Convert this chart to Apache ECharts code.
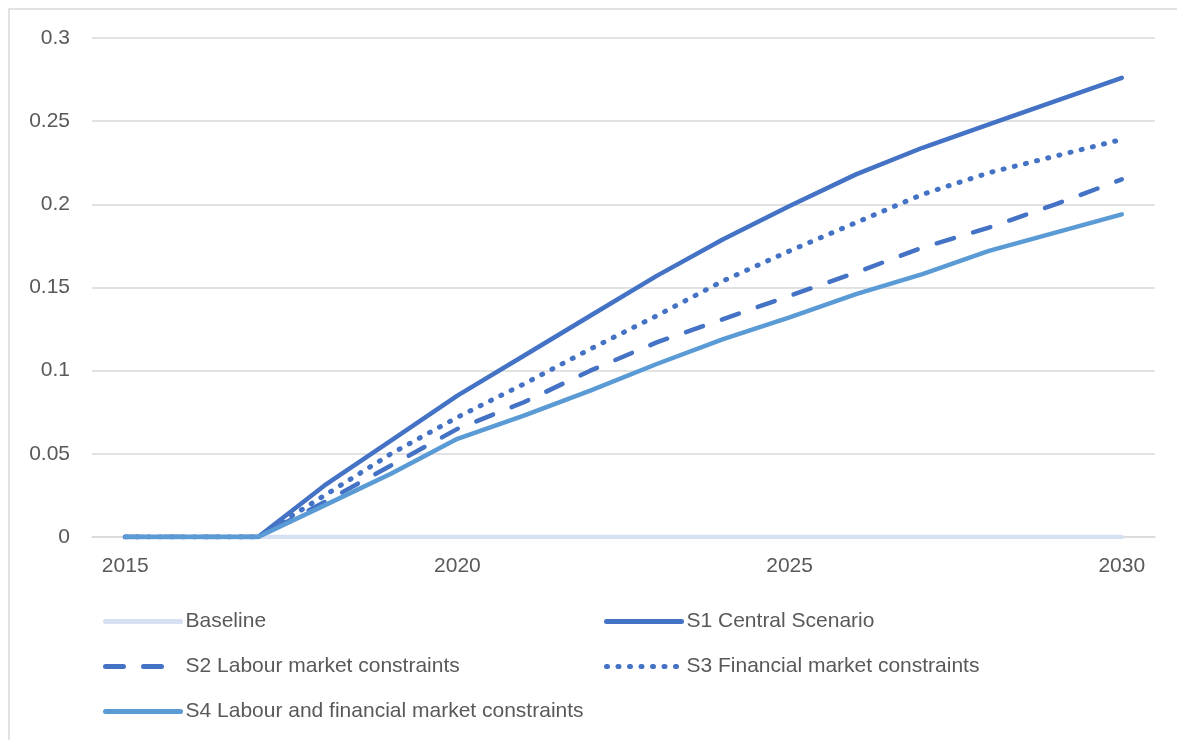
<!DOCTYPE html>
<html>
<head>
<meta charset="utf-8">
<script src="https://cdn.jsdelivr.net/npm/echarts@6/dist/echarts.min.js"></script>
<style>
html,body{margin:0;padding:0;background:#fff;}
#chart{width:1177px;height:740px;}
</style>
</head>
<body>
<div id="chart"></div>
<script>
const years = ['2015','2016','2017','2018','2019','2020','2021','2022','2023','2024','2025','2026','2027','2028','2029','2030'];
const baseline = [0,0,0,0,0,0,0,0,0,0,0,0,0,0,0,0];
const s1 = [0,0,0,0.031,0.058,0.085,0.109,0.133,0.157,0.179,0.199,0.218,0.234,0.248,0.262,0.276];
const s2 = [0,0,0,0.021,0.043,0.065,0.081,0.100,0.117,0.131,0.145,0.159,0.174,0.186,0.200,0.215];
const s3 = [0,0,0,0.025,0.050,0.072,0.092,0.113,0.133,0.154,0.172,0.189,0.206,0.219,0.229,0.239];
const s4 = [0,0,0,0.019,0.038,0.059,0.073,0.088,0.104,0.119,0.132,0.146,0.158,0.172,0.183,0.194];
const names = ['Baseline','S1 Central Scenario','S2 Labour market constraints','S3 Financial market constraints','S4 Labour and financial market constraints'];

const FONT = 'Liberation Sans, Arial, sans-serif';
const chart = echarts.init(document.getElementById('chart'));
const legendText = {color:'#595959', fontSize:21, fontFamily:FONT};
const legendBase = {orient:'vertical', top:611, itemGap:24, itemWidth:75, itemHeight:10, padding:0, textStyle:legendText,
  itemStyle:{opacity:0}, lineStyle:{width:5, cap:'round'}};
chart.setOption({
  animation:false,
  backgroundColor:'#fff',
  graphic:[{type:'rect', shape:{x:9,y:9,width:1200,height:760}, style:{fill:'none', stroke:'#D9D9D9', lineWidth:1.5}, silent:true, z:-1}],
  grid:{left:92, right:22, top:38, bottom:203},
  legend:[
    Object.assign({left:103, data:[names[0],names[2],names[4]]}, legendBase),
    Object.assign({left:604, data:[names[1],names[3]]}, legendBase)
  ],
  xAxis:{
    type:'category', data:years, boundaryGap:true,
    axisLine:{show:true, lineStyle:{color:'#D9D9D9', width:1.5}},
    axisTick:{show:false},
    axisLabel:{interval:(i)=> i%5===0, color:'#595959', fontSize:21, fontFamily:FONT, margin:19},
    splitLine:{show:false}
  },
  yAxis:{
    type:'value', min:0, max:0.3, interval:0.05,
    axisLine:{show:false}, axisTick:{show:false},
    axisLabel:{color:'#595959', fontSize:21, fontFamily:FONT, margin:22},
    splitLine:{lineStyle:{color:'#D9D9D9', width:1.5}}
  },
  series:[
    {name:names[0], type:'line', data:baseline, showSymbol:false, symbol:'none', lineStyle:{color:'#D6E0F2', width:4.5, cap:'round'}, itemStyle:{color:'#D6E0F2'}},
    {name:names[1], type:'line', data:s1, showSymbol:false, symbol:'none', lineStyle:{color:'#4472C4', width:4.5, cap:'round'}, itemStyle:{color:'#4472C4'}},
    {name:names[2], type:'line', data:s2, showSymbol:false, symbol:'none', lineStyle:{color:'#4472C4', width:4.5, type:[18,20], cap:'round'}, itemStyle:{color:'#4472C4'}},
    {name:names[3], type:'line', data:s3, showSymbol:false, symbol:'none', lineStyle:{color:'#4472C4', width:5, type:[1,10.5], cap:'round'}, itemStyle:{color:'#4472C4'}},
    {name:names[4], type:'line', data:s4, showSymbol:false, symbol:'none', lineStyle:{color:'#5B9BD5', width:4.5, cap:'round'}, itemStyle:{color:'#5B9BD5'}}
  ]
});
</script>
</body>
</html>
